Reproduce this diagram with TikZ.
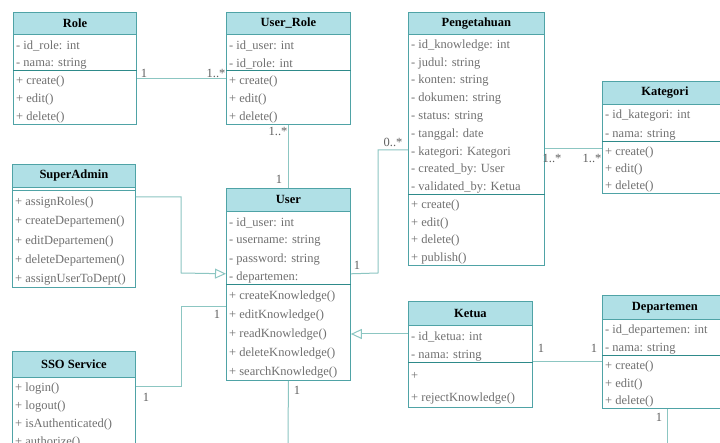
\documentclass[tikz,border=0pt]{standalone}
\usepackage{fontspec}
\setmainfont{Liberation Serif}
\usetikzlibrary{calc,arrows.meta}
\definecolor{hdrfill}{HTML}{B0E0E6}
\definecolor{boxline}{HTML}{4FA3A6}
\definecolor{divline}{HTML}{2E8A8A}
\definecolor{conline}{HTML}{8CC6C2}
\definecolor{rowtext}{HTML}{707070}
\definecolor{labtext}{HTML}{606060}
\tikzset{
  hdr/.style={draw=boxline, fill=hdrfill, line width=0.8pt, inner sep=0pt,
    font=\fontsize{12.5}{14}\selectfont\bfseries, text=black},
  sec/.style={draw=boxline, fill=white, line width=0.8pt, inner sep=0pt},
  rowtxt/.style={inner sep=0pt, anchor=west, font=\fontsize{12.5}{14}\selectfont, text=rowtext},
  conn/.style={draw=conline, line width=1pt},
  gen/.style={conn, -{Triangle[open, length=11pt, width=10pt, line width=1pt]}},
  mult/.style={inner sep=0pt, font=\fontsize{12.5}{14}\selectfont, text=labtext},
}
% header: id, x, y, width, height, title
\newcommand\umlhead[6]{\node[hdr, minimum width=#4pt, minimum height=#5pt, anchor=north west] (#1) at (#2,#3) {#6};}
% section: id, x, y, width, height, rows, list
\newcommand\umlsec[7]{%
  \node[sec, minimum width=#4pt, minimum height=#5pt, anchor=north west] (#1) at (#2,#3) {};
  \foreach \t [count=\i] in {#7}
    \node[rowtxt] (#1-\i) at ($(#1.north west)+(3,{(\i-0.5)*#5/#6+2.5})$) {\t};
}
\begin{document}
\begin{tikzpicture}[x=1pt,y=-1pt]
\useasboundingbox (0,0) rectangle (720,443);
\fill[white] (0,0) rectangle (720,443);

% Role
\umlhead{role}{13}{12}{123}{22}{Role}
\umlsec{roleA}{13}{34}{123}{36}{2}{- id\_role: int, - nama: string}
\umlsec{roleM}{13}{70}{123}{54}{3}{+ create(), + edit(), + delete()}
\draw[divline, line width=0.8pt] (roleM.north west) -- (roleM.north east);

% User_Role
\umlhead{ur}{226}{12}{124}{22}{User\_Role}
\umlsec{urA}{226}{34}{124}{36}{2}{- id\_user: int, - id\_role: int}
\umlsec{urM}{226}{70}{124}{54}{3}{+ create(), + edit(), + delete()}
\draw[divline, line width=0.8pt] (urM.north west) -- (urM.north east);

% Pengetahuan
\umlhead{pg}{408}{12}{136}{22}{Pengetahuan}
\umlsec{pgA}{408}{34}{136}{160}{9}{- id\_knowledge: int, - judul: string, - konten: string, - dokumen: string, - status: string, - tanggal: date, - kategori: Kategori, - created\_by: User, - validated\_by: Ketua}
\umlsec{pgM}{408}{194}{136}{71}{4}{+ create(), + edit(), + delete(), + publish()}
\draw[divline, line width=0.8pt] (pgM.north west) -- (pgM.north east);

% Kategori
\umlhead{kat}{602}{81}{125}{23}{Kategori}
\umlsec{katA}{602}{104}{125}{37}{2}{- id\_kategori: int, - nama: string}
\umlsec{katM}{602}{141}{125}{52}{3}{+ create(), + edit(), + delete()}
\draw[divline, line width=0.8pt] (katM.north west) -- (katM.north east);

% SuperAdmin
\umlhead{sa}{12}{164}{123}{23}{SuperAdmin}
\node[sec, minimum width=123pt, minimum height=3pt, anchor=north west] (saA) at (12,187) {};
\umlsec{saM}{12}{190}{123}{97}{5}{+ assignRoles(), + createDepartemen(), + editDepartemen(), + deleteDepartemen(), + assignUserToDept()}

% User
\umlhead{user}{226}{188}{124}{23}{User}
\umlsec{userA}{226}{211}{124}{73}{4}{- id\_user: int, - username: string, - password: string, - departemen:}
\umlsec{userM}{226}{284}{124}{96}{5}{+ createKnowledge(), + editKnowledge(), + readKnowledge(), + deleteKnowledge(), + searchKnowledge()}
\draw[divline, line width=0.8pt] (userM.north west) -- (userM.north east);

% SSO Service
\umlhead{sso}{12}{351}{123}{26}{SSO Service}
\umlsec{ssoM}{12}{377}{123}{72}{4}{+ login(), + logout(), + isAuthenticated(), + authorize()}

% Ketua
\umlhead{ketua}{408}{301}{124}{24}{Ketua}
\umlsec{ketuaA}{408}{325}{124}{37}{2}{- id\_ketua: int, - nama: string}
\umlsec{ketuaM}{408}{362}{124}{45}{2}{+, + rejectKnowledge()}
\draw[divline, line width=0.8pt] (ketuaM.north west) -- (ketuaM.north east);

% Departemen
\umlhead{dep}{602}{295}{125}{24}{Departemen}
\umlsec{depA}{602}{319}{125}{36}{2}{- id\_departemen: int, - nama: string}
\umlsec{depM}{602}{355}{125}{53}{3}{+ create(), + edit(), + delete()}
\draw[divline, line width=0.8pt] (depM.north west) -- (depM.north east);

% free ends
\coordinate (userEnd) at (288,450);
\coordinate (depEnd) at (667,450);

% Connectors
\draw[conn] ($(roleM.north east)+(0,9)$) -- ($(urM.north west)+(0,9)$);
\node[mult] (m1) at (144,73) {1};
\node[mult] (m2) at (216,73) {1..*};

\draw[conn] (urM.south) -- (user.north);
\node[mult] (m3) at (278,131) {1..*};
\node[mult] (m4) at (279,179) {1};

\draw[gen] ($(saM.north east)+(0,7)$) -| (181,273) -- ($(userA.south west)+(0,-11)$);

\draw[conn] ($(userA.south east)+(0,-11)$) -- (378,273) |- ($(pgA.north west)+(0,116)$);
\node[mult] (m5) at (357,265) {1};
\node[mult] (m6) at (393,142) {0..*};

\draw[conn] ($(pgA.north east)+(0,115)$) -- ($(katM.north west)+(0,8)$);
\node[mult] (m7) at (552,158) {1..*};
\node[mult] (m8) at (592,158) {1..*};

\draw[conn] ($(ssoM.north east)+(0,9)$) -| (181,307) -- ($(userM.north west)+(0,23)$);
\node[mult] (m9) at (146,397) {1};
\node[mult] (m10) at (217,314) {1};

\draw[conn] (userM.south) -- (userEnd);
\node[mult] (m11) at (297,390) {1};

\draw[gen] ($(ketuaA.north west)+(0,9)$) -- ($(userM.north east)+(0,50)$);

\draw[conn] (ketuaM.north east) -- (depM.north west |- ketuaM.north east);
\node[mult] (m12) at (541,348) {1};
\node[mult] (m13) at (594,348) {1};

\draw[conn] (depM.south -| depEnd) -- (depEnd);
\node[mult] (m14) at (659,417) {1};
\end{tikzpicture}
\end{document}
